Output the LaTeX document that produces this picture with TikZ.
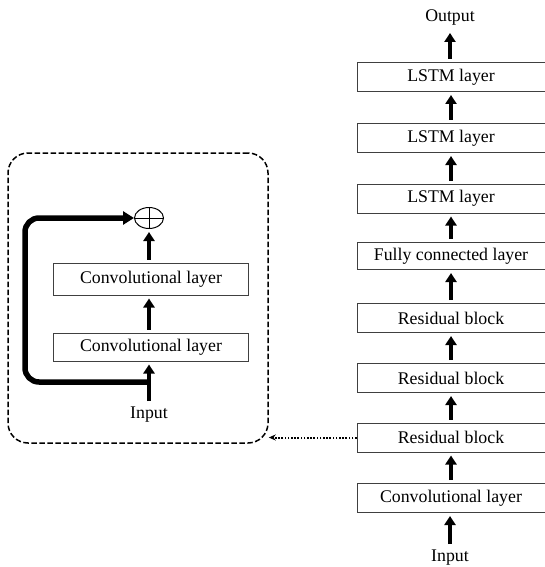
\documentclass[tikz,border=0pt]{standalone}
\usepackage{fontspec}
\setmainfont{Liberation Serif}
\usetikzlibrary{arrows.meta,shapes.geometric}
\begin{document}
\begin{tikzpicture}[x=1pt,y=-1pt,
  every node/.style={font=\fontsize{17.8}{20}\selectfont, inner sep=0pt},
  layer/.style={draw=black!75, line width=1pt, fill=white, minimum width=188pt, minimum height=29pt},
  llayer/.style={draw=black!75, line width=1pt, fill=white, minimum width=195pt, minimum height=30pt},
  flow/.style={line width=4.5pt, -{Triangle[length=9pt,width=11pt]}, shorten >=3pt, shorten <=3pt},
  skip/.style={line width=5.5pt, rounded corners=14pt, -{Triangle[length=11pt,width=13pt]}},
  group/.style={draw, dash pattern=on 5.5pt off 2.5pt, line width=1.5pt, rounded corners=20pt, minimum width=260pt, minimum height=290pt},
  link/.style={dash pattern=on 1.6pt off 1.6pt, line width=2pt, -{Stealth[length=7pt,width=6pt]}}
]
\useasboundingbox (0,0) rectangle (544,567);

% right column
\node (out) at (450,18) {Output};
\node[layer] (l1) at (451,77) {LSTM layer};
\node[layer] (l2) at (451,138) {LSTM layer};
\node[layer] (l3) at (451,198.5) {LSTM layer};
\node[layer, minimum height=27pt] (fc) at (451,256) {Fully connected layer};
\node[layer] (r1) at (451,318) {Residual block};
\node[layer] (r2) at (451,378) {Residual block};
\node[layer] (r3) at (451,437.5) {Residual block};
\node[layer] (cv) at (451,498) {Convolutional layer};
\node (in) at (450,558) {Input};

\draw[flow, shorten >=7pt] (l1.north -| out.south) -- (out.south);
\draw[flow] (l2.north) -- (l1.south);
\draw[flow] (l3.north) -- (l2.south);
\draw[flow] (fc.north) -- (l3.south);
\draw[flow] (r1.north) -- (fc.south);
\draw[flow] (r2.north) -- (r1.south);
\draw[flow] (r3.north) -- (r2.south);
\draw[flow] (cv.north) -- (r3.south);
\draw[flow, shorten <=6pt] (in.north) -- (in.north |- cv.south);

% left residual block
\node[group] (grp) at (138,298) {};
\node[draw, ellipse, line width=1pt, minimum width=29pt, minimum height=21pt] (op) at (149,218) {};
\draw[line width=1pt] (op.north) -- (op.south) (op.west) -- (op.east);
\node[llayer, minimum height=32pt] (c2) at (151,279) {Convolutional layer};
\node[llayer, minimum height=28pt] (c1) at (151,347) {Convolutional layer};
\node (lin) at (149,415) {Input};
\draw[flow] (c2.north -| op.south) -- (op.south);
\draw[flow] (c1.north -| op.south) -- (c2.south -| op.south);
\draw[flow, shorten <=6pt] (lin.north) -- (lin.north |- c1.south);
\coordinate (tee) at (149,382);
\draw[skip] (tee) -- (25,382) -- (25,218) -- (op.west);

% link
\draw[link] (r3.west) -- (grp.east |- r3.west);
\end{tikzpicture}
\end{document}
